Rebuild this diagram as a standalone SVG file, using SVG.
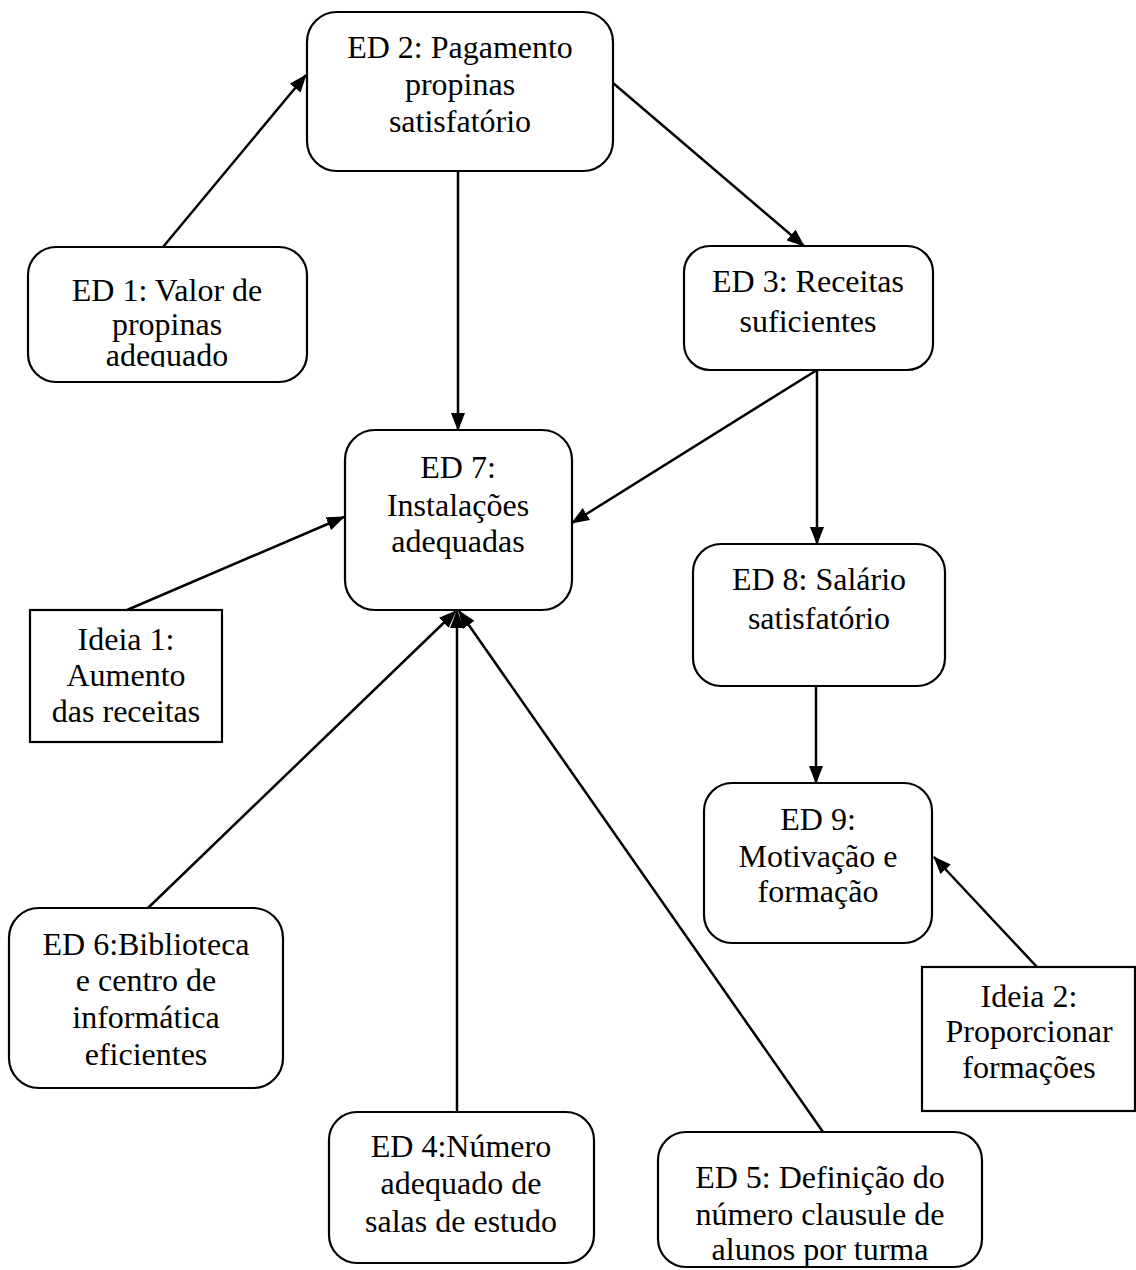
<svg xmlns="http://www.w3.org/2000/svg" width="1136" height="1270" viewBox="0 0 1136 1270">
  <style>
    .box { fill: #ffffff; stroke: #000000; stroke-width: 2.2; }
    .lbl { font-family: "Liberation Serif", "Times New Roman", serif; font-size: 32px; fill: #000000; text-anchor: middle; }
    .edge { stroke: #000000; stroke-width: 2.5; fill: none; marker-end: url(#arrow); }
  </style>
  <defs>
    <marker id="arrow" markerUnits="userSpaceOnUse" markerWidth="18" markerHeight="14" refX="17" refY="7" orient="auto">
      <path d="M0,0 L18,7 L0,14 z" fill="#000000"/>
    </marker>
    <clipPath id="clip-ed1">
      <rect x="28" y="247" width="279" height="120"/>
    </clipPath>
  </defs>
  <rect width="1136" height="1270" fill="#ffffff"/>

  <g id="connectors">
    <line class="edge" x1="163" y1="247" x2="306" y2="75"/>
    <line class="edge" x1="613" y1="83" x2="804" y2="246"/>
    <line class="edge" x1="458" y1="171" x2="458" y2="430"/>
    <line class="edge" x1="817" y1="370" x2="572" y2="523"/>
    <line class="edge" x1="817" y1="370" x2="817" y2="544"/>
    <line class="edge" x1="127" y1="610" x2="344" y2="517"/>
    <line class="edge" x1="148" y1="908" x2="456" y2="611"/>
    <line class="edge" x1="457" y1="1112" x2="457" y2="611"/>
    <line class="edge" x1="823" y1="1132" x2="459" y2="611"/>
    <line class="edge" x1="816" y1="686" x2="816" y2="783"/>
    <line class="edge" x1="1037" y1="967" x2="934" y2="857"/>
  </g>

  <g id="ed2">
    <rect class="box" x="307" y="12" width="306" height="159" rx="30" ry="30"/>
    <text class="lbl" x="460" y="58">ED 2: Pagamento</text>
    <text class="lbl" x="460" y="95">propinas</text>
    <text class="lbl" x="460" y="132">satisfatório</text>
  </g>

  <g id="ed1">
    <rect class="box" x="28" y="247" width="279" height="135" rx="28" ry="28"/>
    <g clip-path="url(#clip-ed1)">
      <text class="lbl" x="167" y="301">ED 1: Valor de</text>
      <text class="lbl" x="167" y="335">propinas</text>
      <text class="lbl" x="167" y="366">adequado</text>
    </g>
  </g>

  <g id="ed3">
    <rect class="box" x="684" y="246" width="249" height="124" rx="26" ry="26"/>
    <text class="lbl" x="808" y="292">ED 3: Receitas</text>
    <text class="lbl" x="808" y="332">suficientes</text>
  </g>

  <g id="ed7">
    <rect class="box" x="345" y="430" width="227" height="180" rx="30" ry="30"/>
    <text class="lbl" x="458" y="478">ED 7:</text>
    <text class="lbl" x="458" y="516">Instalações</text>
    <text class="lbl" x="458" y="552">adequadas</text>
  </g>

  <g id="ideia1">
    <rect class="box" x="30" y="610" width="192" height="132"/>
    <text class="lbl" x="126" y="650">Ideia 1:</text>
    <text class="lbl" x="126" y="686">Aumento</text>
    <text class="lbl" x="126" y="722">das receitas</text>
  </g>

  <g id="ed8">
    <rect class="box" x="693" y="544" width="252" height="142" rx="28" ry="28"/>
    <text class="lbl" x="819" y="590">ED 8: Salário</text>
    <text class="lbl" x="819" y="629">satisfatório</text>
  </g>

  <g id="ed9">
    <rect class="box" x="704" y="783" width="228" height="160" rx="28" ry="28"/>
    <text class="lbl" x="818" y="830">ED 9:</text>
    <text class="lbl" x="818" y="867">Motivação e</text>
    <text class="lbl" x="818" y="902">formação</text>
  </g>

  <g id="ideia2">
    <rect class="box" x="922" y="967" width="213" height="144"/>
    <text class="lbl" x="1029" y="1007">Ideia 2:</text>
    <text class="lbl" x="1029" y="1042">Proporcionar</text>
    <text class="lbl" x="1029" y="1078">formações</text>
  </g>

  <g id="ed6">
    <rect class="box" x="9" y="908" width="274" height="180" rx="30" ry="30"/>
    <text class="lbl" x="146" y="955">ED 6:Biblioteca</text>
    <text class="lbl" x="146" y="991">e centro de</text>
    <text class="lbl" x="146" y="1028">informática</text>
    <text class="lbl" x="146" y="1065">eficientes</text>
  </g>

  <g id="ed4">
    <rect class="box" x="329" y="1112" width="265" height="151" rx="28" ry="28"/>
    <text class="lbl" x="461" y="1157">ED 4:Número</text>
    <text class="lbl" x="461" y="1194">adequado de</text>
    <text class="lbl" x="461" y="1232">salas de estudo</text>
  </g>

  <g id="ed5">
    <rect class="box" x="658" y="1132" width="324" height="135" rx="28" ry="28"/>
    <text class="lbl" x="820" y="1188">ED 5: Definição do</text>
    <text class="lbl" x="820" y="1225">número clausule de</text>
    <text class="lbl" x="820" y="1260">alunos por turma</text>
  </g>
</svg>
